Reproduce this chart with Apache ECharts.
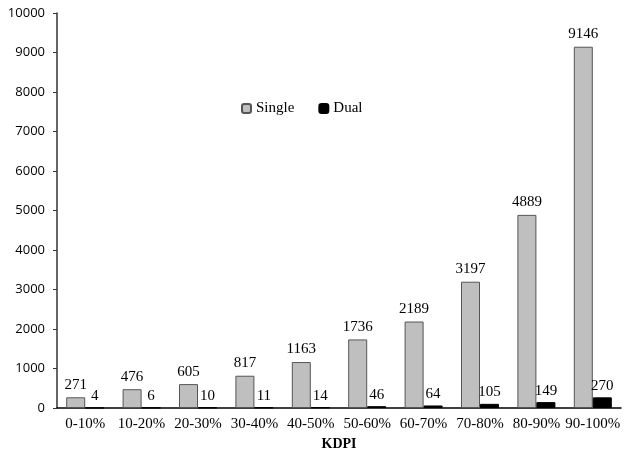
<!DOCTYPE html>
<html><head><meta charset="utf-8">
<script src="https://cdn.jsdelivr.net/npm/echarts@6/dist/echarts.min.js"></script>
<style>html,body{margin:0;padding:0;background:#fff}#c{width:629px;height:452px}</style>
</head><body><div id="c"></div>
<script>
const categories = ['0-10%','10-20%','20-30%','30-40%','40-50%','50-60%','60-70%','70-80%','80-90%','90-100%'];
const singleValues = [271,476,605,817,1163,1736,2189,3197,4889,9146];
const dualValues = [4,6,10,11,14,46,64,105,149,270];
const yTicks = {min:0,max:10000,interval:1000};

const chart = echarts.init(document.getElementById('c'));
const serif = 'Liberation Serif';
chart.setOption({
  animation:false,
  backgroundColor:'#fff',
  grid:{left:57,right:8,top:13,bottom:44,containLabel:false,outerBoundsMode:'none'},
  legend:{
    left:236, top:96, itemWidth:9, itemHeight:9, itemGap:24,
    textStyle:{fontFamily:serif,fontSize:15,color:'#000'},
    data:['Single','Dual']
  },
  xAxis:{
    type:'category', data:categories, name:'KDPI', nameLocation:'middle', nameGap:25,
    nameTextStyle:{fontFamily:serif,fontSize:14,fontWeight:'bold',color:'#000'},
    axisLine:{lineStyle:{color:'#000',width:1.5}},
    axisTick:{show:false},
    axisLabel:{fontFamily:serif,fontSize:15,color:'#000',margin:9,interval:0}
  },
  yAxis:{
    type:'value', min:yTicks.min, max:yTicks.max, interval:yTicks.interval,
    splitLine:{show:false},
    axisLine:{show:true,lineStyle:{color:'#333',width:1.5}},
    axisTick:{show:true,length:4,lineStyle:{color:'#333'}},
    axisLabel:{fontFamily:'Open Sans',fontSize:13,color:'#000',margin:12,formatter:v=>String(v)}
  },
  series:[
    {name:'Single',type:'bar',data:singleValues,barWidth:19,barGap:'0%',
     itemStyle:{color:'#bfbfbf',borderColor:'#555',borderWidth:1},
     label:{show:true,position:'top',distance:5,fontFamily:serif,fontSize:15,color:'#000'}},
    {name:'Dual',type:'bar',data:dualValues,barWidth:19,
     itemStyle:{color:'#000',borderColor:'#000',borderWidth:1},
     label:{show:true,position:'top',distance:4,fontFamily:serif,fontSize:15,color:'#000'}}
  ]
});
</script></body></html>
